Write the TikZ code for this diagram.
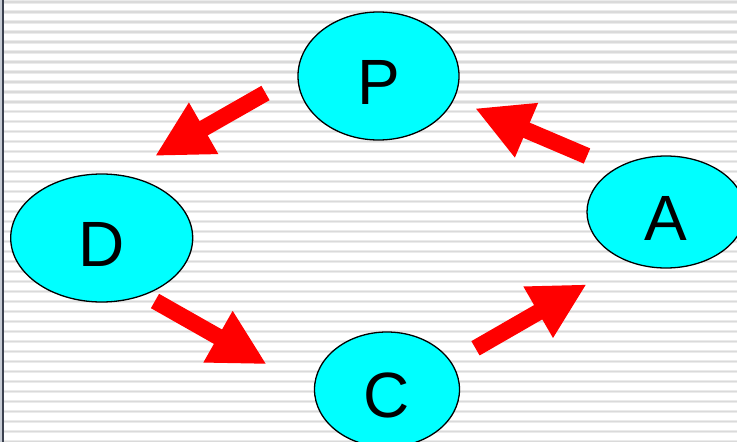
\documentclass[tikz,border=0pt]{standalone}
\usepackage{fontspec}
\setmainfont{Liberation Sans}
\usetikzlibrary{arrows.meta}
\definecolor{stripeA}{HTML}{EBEBEB}
\definecolor{stripeB}{HTML}{DADADA}
\definecolor{edgeline}{HTML}{3C4250}
\definecolor{edgepale}{HTML}{C8CDD6}
\definecolor{cyanfill}{HTML}{00FFFF}
\definecolor{arrowred}{HTML}{FF0000}
\tikzset{
  blob/.style={ellipse, draw=black, line width=1.3pt, fill=cyanfill, inner sep=0pt,
    text height=56pt, text depth=0pt, font=\fontsize{64}{64}\selectfont},
  fatarrow/.style={draw=arrowred, line width=16.5pt, line cap=butt,
    -{Triangle[length=56pt,width=55pt]}, arrowred}
}
\usetikzlibrary{shapes.geometric}
\begin{document}
\begin{tikzpicture}[x=1pt,y=-1pt]
\useasboundingbox (0,0) rectangle (737,442);
\clip (0,0) rectangle (737,442);
\fill[white] (0,0) rectangle (737,442);
\foreach \i in {0,...,44} {
  \fill[stripeA] (4,{0.2+\i*9.99}) rectangle (737,{3.6+\i*9.99});
  \fill[stripeB] (4,{1.2+\i*9.99}) rectangle (737,{2.6+\i*9.99});
}
\fill[edgepale] (0,0) rectangle (2,442);
\fill[edgeline] (2,0) rectangle (4.2,442);

\node[blob, minimum width=161pt, minimum height=128pt] (P) at (378.5,76) {P};
\node[blob, minimum width=182pt, minimum height=128pt] (D) at (101.7,238) {D};
\node[blob, minimum width=158pt, minimum height=112pt] (A) at (666,212) {A};
\node[blob, minimum width=145pt, minimum height=115pt] (C) at (387,389.5) {C};

\coordinate (pdTail) at (265.5,93);
\coordinate (pdTip) at (155,156);
\coordinate (apTail) at (587,156);
\coordinate (apTip) at (475,108.3);
\coordinate (dcTail) at (155,301);
\coordinate (dcTip) at (266.7,364.3);
\coordinate (caTail) at (475.5,348.3);
\coordinate (caTip) at (586.7,284.3);

\draw[fatarrow] (pdTail) -- (pdTip);
\draw[fatarrow] (apTail) -- (apTip);
\draw[fatarrow] (dcTail) -- (dcTip);
\draw[fatarrow] (caTail) -- (caTip);
\end{tikzpicture}
\end{document}
